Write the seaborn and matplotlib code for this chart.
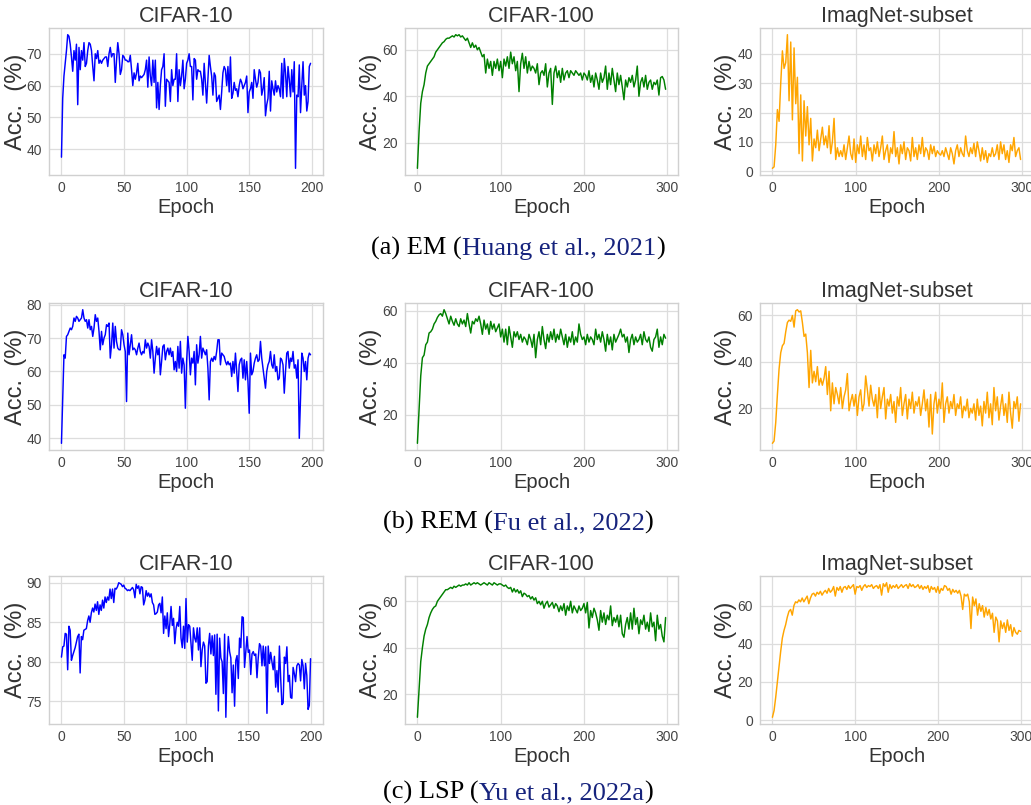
import numpy as np
import matplotlib
matplotlib.use("Agg")
import matplotlib.pyplot as plt
from matplotlib.ticker import MultipleLocator
import seaborn as sns

sns.set_style("whitegrid")
plt.rcParams['font.family'] = ['Liberation Sans', 'DejaVu Sans']

# ------------------------------------------------------------
# data - 200-epoch runs every epoch,
# 300-epoch runs every 2nd epoch
# ------------------------------------------------------------
em_cifar10 = [
    37.5, 56, 63, 67, 71, 76, 75.5, 73, 69, 64.5,
    71, 68, 73, 54, 72, 65, 71, 68, 73.5, 66,
    67, 71, 73.5, 73, 71, 66, 61.5, 70, 68.5, 71,
    67, 68, 67, 68, 68.5, 69, 69, 66, 70, 72,
    69, 70, 70, 61, 68, 73.5, 70, 63.5, 65, 69.5,
    69, 68, 68, 67.5, 67.5, 69.5, 65, 60, 64, 62,
    64, 67, 61.5, 63, 62.5, 63, 63.5, 65, 68, 59.5,
    69, 63, 60, 68, 61, 68, 53, 61, 52.5, 60,
    65, 66, 70, 53.5, 62, 61.5, 61, 55, 65, 60,
    62, 62, 70, 55, 65, 60, 63, 68, 59, 62,
    67, 68, 70, 66, 66, 55.5, 68.5, 68, 62, 65,
    64.5, 64.5, 62, 57, 67, 61, 54.5, 62, 69.5, 66,
    63, 57, 64, 63, 55, 56, 57, 52.5, 58, 64,
    66, 65, 60, 66, 58, 69, 56, 57.5, 61, 58.5,
    59, 56.5, 60, 62, 61, 59, 60, 61, 63, 51.5,
    58, 59, 61, 56, 65, 62, 59.5, 61, 65, 64,
    57, 59, 62.5, 50.5, 54, 56, 64.5, 52, 61.5, 59,
    57, 61.5, 58, 60, 59, 56.5, 67, 56, 68.5, 64,
    56.5, 66, 62, 56.5, 65, 58, 67.5, 34, 57, 56.5,
    66.5, 51.5, 60, 67.5, 57, 60, 52, 55, 66, 67,
]
em_cifar100 = [
    9, 25, 37, 42, 45, 50, 53, 54, 55, 56,
    57, 59, 60, 61, 62, 63, 63.5, 64.5, 65, 65,
    65.5, 66, 65.5, 66.5, 66, 66.5, 65.5, 66, 65, 64,
    65, 63, 61, 63, 61, 62, 60, 61, 59, 57,
    58, 50, 56, 52, 55, 49, 55, 52, 56, 51,
    55, 48, 56, 53, 57, 52, 59, 54, 57, 51,
    55, 42, 54, 58.5, 52, 57, 50, 55, 51, 53,
    52, 50, 54, 45, 50, 51, 49, 54, 44, 50,
    52, 36.5, 50, 53, 48, 51, 46, 52, 47, 50,
    51, 48, 51, 50, 49, 51, 50, 49, 50, 47,
    50, 49, 47, 51, 46, 49, 44, 50, 47, 43,
    50, 46, 48, 53, 43, 50, 45, 52, 47, 42,
    50, 45, 49, 44, 38.5, 47, 44, 48, 46, 49,
    44, 47, 53, 40, 46, 48, 44, 49, 43, 46,
    47, 43, 46, 45, 47, 40.5, 48, 48.5, 47, 43,
]
em_imagenet = [
    1, 1.5, 9, 21, 17, 30, 41, 35, 37, 46.5,
    24, 44, 17.5, 42, 23, 32, 6, 26, 3.5, 24,
    12, 22, 9, 18, 3.5, 11, 8, 14, 7, 11,
    15, 9, 12, 8, 15.5, 6, 10, 18, 4, 8,
    5, 7, 5, 9, 4, 8, 12, 6, 4, 11,
    3, 9, 6, 12, 5, 9, 4, 11.5, 7, 8,
    3.5, 9, 6, 10, 5, 8, 12, 4, 7, 9,
    3, 8, 6, 13.5, 5, 8, 2.5, 9, 6, 10,
    4, 8, 7, 3.5, 11.5, 5, 8, 4, 9, 6,
    11.5, 5, 8, 7, 4, 9, 6, 8.5, 5, 7,
    6, 5.5, 7, 5, 8, 6, 4, 8, 6, 2.5,
    7, 9, 5, 8, 6, 5, 12, 7, 5, 8,
    6, 9.5, 5, 10, 7, 3.5, 8, 4, 7, 3,
    6, 5, 8, 5, 6, 9, 4, 10, 6, 9,
    4, 7, 3, 9, 7, 11.5, 5, 7, 8, 4,
]

rem_cifar10 = [
    38.5, 52, 65, 64, 70.5, 71, 72, 73, 72.5, 73.5,
    76, 75, 76.5, 76, 75, 75.5, 76, 78.5, 76, 75,
    75.5, 73, 75.5, 72.5, 73.5, 70.5, 73, 77, 75, 76,
    72, 66.5, 72, 68, 70, 71, 74, 73.5, 74.5, 64,
    68, 74.5, 67, 73.5, 69, 67, 66.5, 66.5, 72.5, 71,
    68, 66, 51, 71.5, 65, 68, 71, 66.5, 67, 66.5,
    65, 67, 68.5, 66, 65, 66, 65.5, 69.5, 67, 68.5,
    67.5, 64, 69.5, 66, 59.5, 64, 67.5, 65, 67, 59,
    63, 67.5, 68, 63.5, 66, 67, 65, 67, 64.5, 66,
    60.5, 63, 60, 67.5, 61, 69, 59.5, 64, 62, 49,
    63, 70.5, 66, 59, 64, 62.5, 66, 56, 68, 62.5,
    65, 70.5, 64, 67, 66, 65, 66.5, 61, 51.5, 63,
    64, 63, 64.5, 63.5, 66, 69.5, 69.5, 62, 65.5, 65,
    64.5, 63, 62, 63, 62, 62.5, 58.5, 63, 59.5, 65.5,
    60, 54, 62, 63.5, 64, 58, 63.5, 57.5, 63, 57,
    47.5, 65.5, 59, 60, 62.5, 64, 65, 63, 63.5, 69,
    64, 61, 58, 55, 60, 62, 63, 66, 62, 61,
    65, 60, 61.5, 57.5, 58, 64, 63.5, 62, 53.5, 60,
    65.5, 66, 61, 64, 63, 66, 61, 62, 58, 63.5,
    40, 52, 65.5, 64, 60, 63, 57.5, 64, 65.5, 65,
]
rem_cifar100 = [
    9, 22, 35, 42, 43, 47, 48, 51.5, 52, 53,
    55, 56, 57.5, 58.5, 59, 58, 60.5, 59, 57, 55,
    58, 56, 54.5, 57, 55, 54, 57, 55, 56.5, 54,
    59, 55, 51.5, 56, 55, 57, 56, 58, 55, 51,
    56.5, 53, 55, 51, 56, 53, 55, 52, 53.5, 55,
    50, 53, 48, 53, 47, 54, 50, 46, 52, 50,
    52, 49, 51, 48, 50, 49, 47, 51, 49, 46,
    51, 42, 49, 52, 47, 54, 49, 45.5, 51, 48,
    52, 49, 53, 48, 51, 49, 53, 50, 47, 51,
    46, 50, 48, 52, 47, 50, 48, 55, 51, 49,
    50, 47, 51, 48, 50, 49, 47, 53, 49, 51,
    48, 52, 49, 44.5, 51, 47, 50, 45, 51, 48,
    49.5, 51, 53, 50, 51, 48, 50, 44, 49, 51,
    47, 50, 48, 49, 51, 47, 52, 49, 48, 50,
    46, 44.5, 49, 50, 53, 46, 50, 47, 51, 49.5,
]
rem_imagenet = [
    5, 6, 14, 26, 37, 44, 47, 48, 53, 57,
    58, 57.5, 60, 55, 62, 62.5, 61.5, 62, 57, 51,
    52, 44, 29, 45, 31, 36, 31.5, 38, 30, 33,
    30, 33, 38, 26, 36, 19, 31, 22, 29, 26,
    22, 29, 20, 25, 28, 35, 19, 23, 26, 21,
    26, 17, 25, 28, 19, 22, 34, 28, 21, 30,
    24, 21, 26, 16, 29, 20, 25, 29, 15.5, 24,
    21, 26, 18, 23, 14, 25, 21, 29, 17, 22,
    26, 15.5, 24, 20, 27, 18, 23, 21, 25, 17,
    22, 28, 19, 24, 12, 26, 9, 22, 27, 18,
    24, 20, 31, 14, 22, 25, 18, 23, 20, 26,
    17, 22, 20, 25, 16, 21, 19, 24, 16, 20,
    18, 22, 15, 24, 17, 21, 12.5, 23, 18, 27,
    16, 22, 13, 29, 19, 25, 15, 21, 26, 17,
    22, 14, 27, 18, 11.5, 23, 20, 25, 14.5, 22,
]

lsp_cifar10 = [
    80.6, 81.9, 82.0, 83.6, 83.5, 79.0, 84.5, 84.0, 80.2, 80.8,
    81.3, 81.8, 82.5, 83.2, 83.5, 78.6, 83.2, 82.8, 84.0, 84.1,
    84.2, 85.2, 85.8, 85.0, 86.2, 86.8, 86.3, 87.3, 86.5, 87.6,
    86.0, 87.2, 86.5, 87.8, 86.8, 88.2, 87.5, 88.2, 87.8, 89.2,
    88.0, 89.2, 87.5, 89.3, 89.2, 89.5, 90.0, 89.9, 89.8, 89.5,
    89.7, 89.3, 89.2, 89.0, 89.1, 89.0, 89.2, 89.4, 89.1, 88.1,
    89.8, 89.3, 89.6, 88.6, 89.5, 89.4, 87.2, 87.8, 89.0, 88.3,
    88.7, 88.2, 88.6, 87.5, 87.2, 86.0, 86.1, 86.3, 87.2, 87.4,
    86.2, 88.2, 83.6, 85.8, 84.2, 86.2, 83.2, 84.8, 87.0, 84.6,
    85.5, 82.3, 84.2, 85.0, 84.5, 87.0, 83.0, 81.8, 84.5, 81.7,
    88.0, 82.5, 84.7, 84.5, 82.3, 80.2, 84.3, 83.0, 82.5, 84.3,
    81.5, 84.3, 79.4, 81.5, 82.5, 82.0, 77.3, 77.5, 82.0, 83.6,
    81.0, 83.3, 80.8, 83.4, 75.9, 83.5, 73.8, 83.0, 80.5, 80.0,
    76.0, 83.5, 73.0, 80.0, 83.2, 81.3, 80.5, 76.1, 79.6, 74.4,
    80.2, 80.8, 77.9, 83.0, 81.8, 85.7, 85.6, 79.3, 81.3, 83.2,
    81.2, 81.5, 78.4, 81.0, 81.3, 80.8, 81.0, 78.0, 80.5, 82.3,
    82.0, 79.5, 82.0, 79.5, 81.9, 73.5, 82.0, 79.8, 81.2, 80.0,
    79.0, 80.7, 76.8, 78.9, 76.2, 82.0, 78.0, 74.6, 74.8, 80.6,
    79.8, 81.9, 77.5, 78.3, 75.5, 75.4, 79.3, 78.5, 77.5, 79.5,
    79.8, 79.6, 77.6, 80.3, 79.5, 76.6, 79.8, 78.3, 74.0, 74.5,
    80.4,
]
lsp_cifar100 = [
    10, 22, 34, 40, 45, 48, 50, 53, 55, 56.5,
    57.5, 58, 60, 61, 62, 63, 64, 65, 65, 65.5,
    66, 65.5, 66.5, 66, 66.5, 67, 66.5, 67, 67, 67.5,
    67, 68, 67, 67.5, 68, 67.5, 68, 67.5, 67, 67.5,
    68, 67.5, 67, 68, 67.5, 67, 68, 67.5, 67, 67.5,
    67.5, 67, 66.5, 67, 66, 65.5, 66, 64, 65.5, 64,
    65, 63.5, 64.5, 62, 63.5, 63, 62, 62.5, 61, 62,
    60.5, 61.5, 59, 60, 58.5, 60, 57, 59, 60, 57.5,
    58.5, 59.5, 57, 59, 58, 55.5, 58, 56, 59, 54,
    58, 56, 60, 55, 58, 56.5, 55, 58, 56, 57,
    59, 55, 59.5, 48.5, 56, 53, 57, 55, 52, 47.5,
    56, 51, 55, 50, 54, 52, 58, 49.5, 53, 51,
    54, 49, 54, 46, 44.5, 50, 53, 48, 55, 48,
    57, 50, 53, 46, 52, 50, 54, 48, 51, 47,
    55, 49, 51, 43, 54, 48, 50, 45, 42.5, 53,
]
lsp_imagenet = [
    1.5, 5, 12, 20, 28, 36, 43, 47, 50, 54,
    57, 58, 55, 60, 62, 61.5, 63, 62, 64, 62,
    63.5, 65, 61, 64, 66, 66.5, 65, 67, 66, 67.5,
    65.5, 67, 68, 66.5, 69, 67, 68, 70, 65, 69.5,
    68, 70, 67, 69.5, 70, 68.5, 70.5, 69, 70, 71,
    66, 70, 69.5, 70.5, 68, 70, 71, 69.5, 70.5, 70,
    71, 69, 70, 70.5, 69, 71, 65.5, 71.5, 70, 72,
    67, 71, 69, 70.5, 69.5, 71, 69, 70, 71, 69.5,
    70.5, 71, 69, 71.5, 70, 71, 69.5, 70, 71, 69,
    70.5, 68.5, 70, 69, 70.5, 67, 70, 68.5, 69.5, 67,
    70, 66.5, 69, 68, 70.5, 70, 68, 69, 66, 68.5,
    67, 68, 66.5, 68, 65, 58, 66, 65, 66, 62,
    48, 64.5, 60, 63.5, 55, 61, 57, 60, 54, 59,
    55, 58, 53, 56, 46, 54, 52, 41, 52, 48,
    51, 46, 52.5, 47, 50, 44, 48.5, 46, 45, 47, 46.5,
]

titles = ["CIFAR-10", "CIFAR-100", "ImagNet-subset"]
line_colors = ["blue", "green", "orange"]
captions = [
    ("(a) EM (", "Huang et al., 2021", ")"),
    ("(b) REM (", "Fu et al., 2022", ")"),
    ("(c) LSP (", "Yu et al., 2022a", ")"),
]

# (values, epoch step, y tick step)
panels = [
    [(em_cifar10, 1, 10), (em_cifar100, 2, 20), (em_imagenet, 2, 10)],
    [(rem_cifar10, 1, 10), (rem_cifar100, 2, 20), (rem_imagenet, 2, 20)],
    [(lsp_cifar10, 1, 5), (lsp_cifar100, 2, 20), (lsp_imagenet, 2, 20)],
]

# ------------------------------------------------------------
# layout in pixels
# ------------------------------------------------------------
W, H = 1031, 805
fig = plt.figure(figsize=(W / 100, H / 100), dpi=100)

col_px = [(49, 323), (405, 678), (760, 1033)]
row_px = [(28, 175), (303, 450), (576, 724)]
caption_base = [255, 529, 799]

text_col = "#333333"

for r, row in enumerate(panels):
    for c, (vals, step, ystep) in enumerate(row):
        x0, x1 = col_px[c]
        y0, y1 = row_px[r]
        ax = fig.add_axes([x0 / W, 1 - y1 / H, (x1 - x0) / W, (y1 - y0) / H])
        epochs = np.arange(len(vals)) * step
        sns.lineplot(x=epochs, y=vals, ax=ax, color=line_colors[c], linewidth=1.05)
        ax.set_title(titles[c], fontsize=15.5, pad=4, color=text_col)
        ax.set_xlabel("Epoch", fontsize=14.5, color=text_col, labelpad=2)
        ax.set_ylabel("Acc.  (%)", fontsize=17, color=text_col, labelpad=0)
        ax.xaxis.set_major_locator(MultipleLocator(50 if step == 1 else 100))
        ax.yaxis.set_major_locator(MultipleLocator(ystep))
        ax.tick_params(axis="x", labelsize=10, labelcolor="#444444", pad=1)
        ax.tick_params(axis="y", labelsize=10, labelcolor="#444444", pad=1.5)
        for sp in ax.spines.values():
            sp.set_color("#d0d0d0")
            sp.set_linewidth(1.0)
        ax.grid(color="#dddddd", linewidth=0.9)

# captions with a coloured citation
renderer = fig.canvas.get_renderer()
cite_color = "#16237d"
for (pre, cite, post), yb in zip(captions, caption_base):
    parts = [(pre, "black"), (cite, cite_color), (post, "black")]
    texts = []
    for s, col in parts:
        t = fig.text(0, 1 - yb / H, s, color=col, fontsize=19,
                     family="Liberation Serif", ha="left", va="baseline")
        texts.append(t)
    widths = [t.get_window_extent(renderer).width for t in texts]
    x = 518 - sum(widths) / 2
    for t, w in zip(texts, widths):
        t.set_x(x / W)
        x += w

fig.savefig("out.png", dpi=100)
